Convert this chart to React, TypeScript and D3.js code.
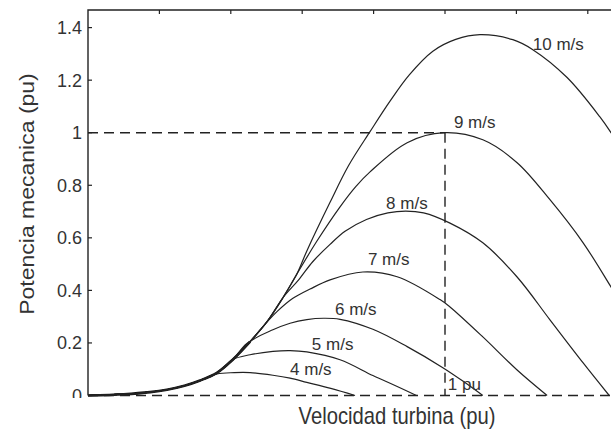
import { useEffect, useRef } from 'react';
import * as d3 from 'd3';

const [width, height] = [611, 432];
const margin = { top: 10, left: 88, bottom: 36 };

// rotor speed (pu), power (pu)
const envelope: [number, number][] = [
    [0, 0], [0.1, 0.005], [0.174, 0.013], [0.221, 0.022], [0.27, 0.037], [0.314, 0.057],
    [0.361, 0.086], [0.406, 0.137], [0.454, 0.205], [0.501, 0.28], [0.546, 0.372],
    [0.585, 0.462], [0.613, 0.55]
];

const speeds = ['4 m/s', '5 m/s', '6 m/s', '7 m/s', '8 m/s', '9 m/s', '10 m/s'];

const curve4: [number, number][] = [
    [0.361, 0.082], [0.41, 0.087], [0.454, 0.087], [0.518, 0.077], [0.566, 0.066],
    [0.613, 0.05], [0.68, 0.027], [0.748, 0]
];
const curve5: [number, number][] = [
    [0.406, 0.137], [0.454, 0.155], [0.518, 0.168], [0.566, 0.171], [0.613, 0.166],
    [0.706, 0.136], [0.798, 0.076], [0.86, 0.038], [0.92, 0]
];
const curve6: [number, number][] = [
    [0.445, 0.198], [0.518, 0.25], [0.566, 0.275], [0.613, 0.289], [0.66, 0.294],
    [0.706, 0.29], [0.798, 0.252], [0.894, 0.186], [0.994, 0.106], [1.05, 0.055], [1.106, 0]
];
const curve7: [number, number][] = [
    [0.482, 0.25], [0.53, 0.32], [0.574, 0.37], [0.622, 0.405], [0.678, 0.44],
    [0.77, 0.47], [0.866, 0.452], [0.986, 0.365], [1.014, 0.337], [1.106, 0.223],
    [1.202, 0.097], [1.286, 0]
];
const curve8: [number, number][] = [
    [0.546, 0.372], [0.59, 0.44], [0.63, 0.51], [0.678, 0.575], [0.72, 0.625],
    [0.78, 0.67], [0.84, 0.695], [0.89, 0.702], [0.94, 0.695], [1.014, 0.656], [1.106, 0.581],
    [1.202, 0.451], [1.294, 0.288], [1.387, 0.124], [1.46, 0]
];
const curve9: [number, number][] = [
    [0.585, 0.462], [0.64, 0.585], [0.706, 0.718], [0.75, 0.795], [0.79, 0.851],
    [0.894, 0.962], [0.997, 1.0], [1.106, 0.973], [1.202, 0.886], [1.294, 0.745],
    [1.387, 0.581], [1.465, 0.413], [1.52, 0.29]
];
const curve10: [number, number][] = [
    [0.613, 0.55], [0.678, 0.735], [0.73, 0.875], [0.79, 1.004], [0.846, 1.12],
    [0.9, 1.22], [0.966, 1.31], [1.03, 1.355], [1.098, 1.373], [1.19, 1.354],
    [1.246, 1.316], [1.342, 1.21], [1.434, 1.06], [1.465, 1.0], [1.52, 0.88]
];
const curves = [curve4, curve5, curve6, curve7, curve8, curve9, curve10];

const yTicks = [0, 0.2, 0.4, 0.6, 0.8, 1, 1.2, 1.4];
const xTicks = [0.2, 0.4, 0.6, 0.8, 1, 1.2, 1.4];
const ratedSpeed = 1;
const ratedPower = 1;

function App() {
    const node = useRef<SVGSVGElement>(null);
    useEffect(() => {
        document.body.style.margin = '0';
        if (!node.current) return;
        const svg = d3.select(node.current);
        svg.selectAll('*').remove();

        const x = d3.scaleLinear().domain([0, 1.5]).range([margin.left, margin.left + 1.5 * 357]);
        const y = d3.scaleLinear().domain([0, 1.467]).range([395.5, margin.top]);

        svg.append('rect').attr('width', width).attr('height', height).attr('fill', '#fff');

        const defs = svg.append('defs');
        defs.append('clipPath').attr('id', 'plot')
            .append('rect').attr('x', x(0)).attr('y', y(1.467)).attr('width', width - x(0)).attr('height', y(0) - y(1.467) + 1.5);
        defs.append('clipPath').attr('id', 'zero')
            .append('rect').attr('x', 0).attr('y', 0).attr('width', width).attr('height', 398);

        const ink = '#222';
        const line = d3.line<[number, number]>().x(d => x(d[0])).y(d => y(d[1])).curve(d3.curveCatmullRom.alpha(0.5));
        const g = svg.append('g').attr('clip-path', 'url(#plot)');

        // overlapping curves make the low-speed part look heavy
        g.append('path').attr('d', line(envelope.filter(p => p[0] <= 0.454))).attr('fill', 'none')
            .attr('stroke', '#111').attr('stroke-width', 2.6);

        curves.forEach(c => {
            const pts = envelope.filter(p => p[0] < c[0][0]).concat(c);
            g.append('path').attr('d', line(pts)).attr('fill', 'none')
                .attr('stroke', ink).attr('stroke-width', 1.2);
        });

        // dashed reference lines
        const dash = '10,6';
        g.append('line').attr('x1', x(0)).attr('x2', width).attr('y1', y(0)).attr('y2', y(0))
            .attr('stroke', ink).attr('stroke-width', 1.4).attr('stroke-dasharray', dash);
        g.append('line').attr('x1', x(0)).attr('x2', x(ratedSpeed)).attr('y1', y(ratedPower)).attr('y2', y(ratedPower))
            .attr('stroke', ink).attr('stroke-width', 1.4).attr('stroke-dasharray', dash);
        g.append('line').attr('x1', x(ratedSpeed)).attr('x2', x(ratedSpeed)).attr('y1', y(ratedPower)).attr('y2', y(0))
            .attr('stroke', ink).attr('stroke-width', 1.4).attr('stroke-dasharray', dash);

        // frame: left and top
        svg.append('path').attr('d', `M${x(0)},${y(0)}V${y(1.467)}H${width}`)
            .attr('fill', 'none').attr('stroke', ink).attr('stroke-width', 1.4);

        svg.append('g').selectAll('line').data(yTicks).enter().append('line')
            .attr('x1', x(0)).attr('x2', x(0) + 4).attr('y1', d => y(d)).attr('y2', d => y(d))
            .attr('stroke', ink).attr('stroke-width', 1.2);
        svg.append('g').selectAll('line').data(xTicks).enter().append('line')
            .attr('x1', d => x(d)).attr('x2', d => x(d)).attr('y1', y(1.467)).attr('y2', y(1.467) + 4)
            .attr('stroke', ink).attr('stroke-width', 1.2);

        const font = 'Liberation Sans, Arial, sans-serif';
        svg.append('g').attr('clip-path', 'url(#zero)').selectAll('text').data(yTicks).enter().append('text')
            .attr('x', x(0) - 6).attr('y', d => y(d)).attr('dy', '0.36em')
            .attr('text-anchor', 'end').attr('font-family', font).attr('font-size', 18).attr('fill', '#333')
            .text(d => d3.format('~g')(d));

        // curve labels, anchored in data units
        const labelAt: [number, number][] = [
            [0.566, 0.078], [0.627, 0.173], [0.692, 0.307], [0.784, 0.497], [0.835, 0.71], [1.025, 1.019], [1.246, 1.316]
        ];
        svg.append('g').selectAll('text').data(speeds).enter().append('text')
            .attr('x', (d, i) => x(labelAt[i][0])).attr('y', (d, i) => y(labelAt[i][1]))
            .attr('font-family', font).attr('font-size', 17).attr('fill', '#333')
            .text(d => d);
        svg.append('text').attr('x', x(1.008)).attr('y', y(0.021))
            .attr('font-family', font).attr('font-size', 17).attr('fill', '#333').text('1 pu');

        svg.append('text').attr('x', 397).attr('y', 424).attr('text-anchor', 'middle')
            .attr('font-family', font).attr('font-size', 23).attr('fill', '#333')
            .attr('transform', 'translate(397,0) scale(0.88,1) translate(-397,0)')
            .text('Velocidad turbina (pu)');
        svg.append('text').attr('transform', 'translate(34,194) rotate(-90) scale(1,0.9)').attr('text-anchor', 'middle')
            .attr('font-family', font).attr('font-size', 23).attr('fill', '#333')
            .text('Potencia mecanica (pu)');
    }, [node]);

    return (
        <svg ref={node} width={width} height={height} style={{ display: 'block' }}></svg>
    );
}

export default App;
